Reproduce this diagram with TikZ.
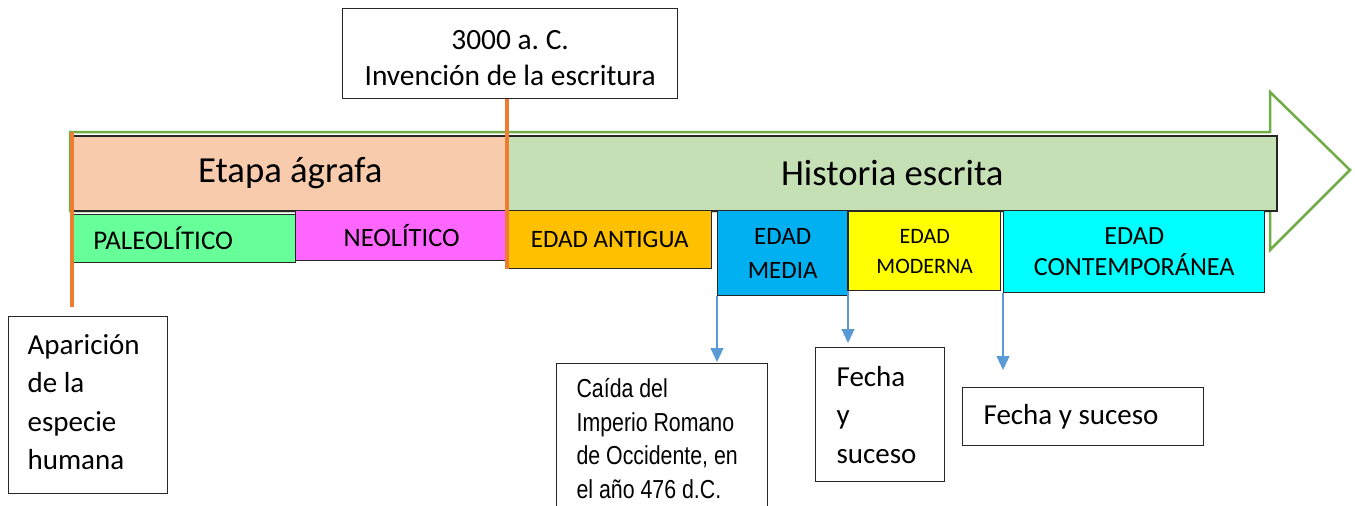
\documentclass[tikz,border=0pt]{standalone}
\usepackage{fontspec}
\setmainfont{Carlito}
\newfontfamily\narrowfont{Liberation Sans}[FakeStretch=0.82]
\frenchspacing
\usetikzlibrary{arrows.meta}
\definecolor{verdeflecha}{HTML}{70AD47}
\definecolor{agrafac}{HTML}{F8CBAD}
\definecolor{escritac}{HTML}{C5E0B4}
\definecolor{paleoc}{HTML}{66FF99}
\definecolor{neoc}{HTML}{FF66FF}
\definecolor{antiguac}{HTML}{FFC000}
\definecolor{mediac}{HTML}{00B0F0}
\definecolor{modernac}{HTML}{FFFF00}
\definecolor{contempc}{HTML}{00FFFF}
\definecolor{hitoc}{HTML}{ED7D31}
\definecolor{flechac}{HTML}{5B9BD5}
\begin{document}
\begin{tikzpicture}[x=1pt,y=1pt,
    barra/.style={draw=black!85,line width=1.6pt,anchor=north west,inner sep=0pt,
      font=\fontsize{36.7}{44}\selectfont},
    edad/.style={draw=black!85,line width=1.4pt,anchor=north west,inner sep=0pt,
      align=flush center,font=\fontsize{25}{34}\selectfont},
    nota/.style={draw=black!85,line width=1.2pt,fill=white,anchor=north west,
      align=flush left,inner xsep=20pt,inner ysep=0pt,font=\fontsize{29}{38.5}\selectfont},
    hito/.style={draw=hitoc,line width=4pt},
    flecha/.style={draw=flechac,line width=1.1pt,
      -{Triangle[width=13pt,length=14pt,fill=flechac]}}]
  \useasboundingbox (0,0) rectangle (1355,-506);
  % flecha grande del tiempo
  \draw[verdeflecha,line width=2.5pt,fill=white,line join=miter]
    (70,-132) -- (1270,-132) -- (1270,-92) -- (1350,-170) -- (1270,-250)
    -- (1270,-211) -- (70,-211) -- cycle;
  % etapas
  \node[barra,fill=agrafac,minimum width=435pt,minimum height=75pt] (agrafa) at (72,-135) {Etapa ágrafa};
  \node[barra,fill=escritac,minimum width=769pt,minimum height=75pt] (escrita) at (507,-135) {Historia escrita};
  % periodos
  \node[edad,fill=paleoc,minimum width=223pt,minimum height=48pt,text height=22pt,
    font=\fontsize{27}{34}\selectfont] (paleo) at (72,-214) {PALEOLÍTICO\hspace{42pt}};
  \node[edad,fill=neoc,minimum width=212pt,minimum height=50pt,
    font=\fontsize{26.5}{34}\selectfont] (neo) at (295,-210) {NEOLÍTICO};
  \node[edad,fill=antiguac,minimum width=204pt,minimum height=58pt] (antigua) at (507,-210) {EDAD ANTIGUA};
  \node[edad,fill=mediac,minimum width=130pt,minimum height=85pt] (media) at (717,-210) {EDAD\\MEDIA};
  \node[edad,fill=modernac,minimum width=152pt,minimum height=79pt,
    font=\fontsize{22}{30}\selectfont] (moderna) at (848,-211) {EDAD\\MODERNA};
  \node[edad,fill=contempc,minimum width=261pt,minimum height=82pt,
    font=\fontsize{26.2}{31}\selectfont] (contemp) at (1003,-210) {EDAD\\CONTEMPORÁNEA};
  % notas
  \node[nota,align=flush center,inner xsep=0pt,minimum width=335pt,minimum height=90pt,
    font=\fontsize{29.4}{36}\selectfont] (escritura) at (342,-8)
    {\rule{0pt}{28pt}3000 a. C.\\Invención de la escritura};
  \node[nota,text width=121pt,inner xsep=19pt,minimum height=177pt] (aparicion) at (8,-316)
    {Aparición\\de la\\especie\\humana\rule[-6pt]{0pt}{1pt}};
  \node[nota,text width=171pt,minimum height=150pt,
    font=\narrowfont\fontsize{26}{33.5}\selectfont] (caida) at (556,-363)
    {Caída del\\Imperio Romano\\de Occidente, en\\el año 476 d.C.};
  \node[nota,text width=87pt,inner xsep=21pt,minimum height=134pt] (fecha_1) at (815,-347) {Fecha\\y\\suceso};
  \node[nota,text width=199pt,inner xsep=21pt,minimum height=58pt] (fecha_2) at (962,-387) {Fecha y suceso};
  % hitos
  \draw[hito,shorten <=-3pt,shorten >=9pt] (agrafa.north west) -- (aparicion.north -| agrafa.west);
  \draw[hito] (escritura.south -| antigua.west) -- (antigua.south west);
  \path
    (media.south west) edge[flecha,shorten >=1pt] (caida.north -| media.west)
    (moderna.south west) edge[flecha,shorten >=4pt] (fecha_1.north -| moderna.west)
    (contemp.south west) edge[flecha,shorten >=17pt] (fecha_2.north -| contemp.west);
\end{tikzpicture}
\end{document}
